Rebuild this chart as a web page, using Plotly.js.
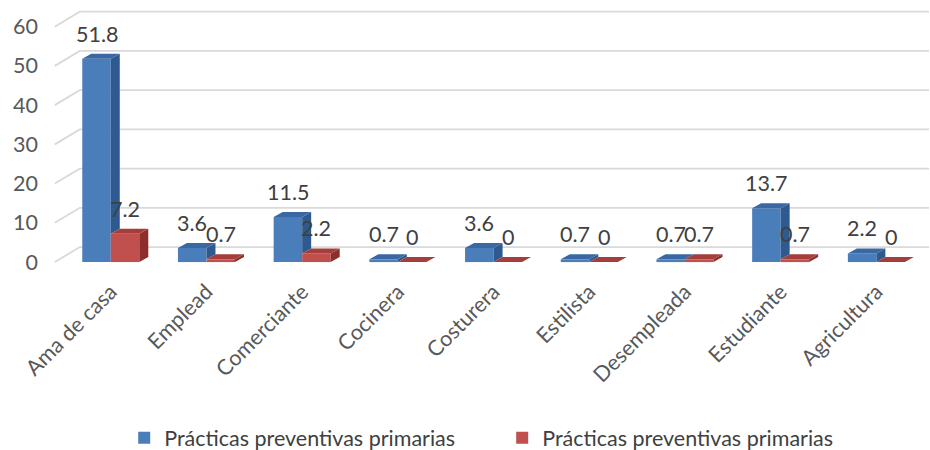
<!DOCTYPE html>
<html>
<head>
<meta charset="utf-8">
<script src="https://cdn.plot.ly/plotly-3.0.1.min.js"></script>
<style>html,body{margin:0;padding:0;background:#fff;}#chart{width:930px;height:450px;}</style>
</head>
<body>
<div id="chart"></div>
<script>
// ---- data ----
const categories = ["Ama de casa","Emplead","Comerciante","Cocinera","Costurera","Estilista","Desempleada","Estudiante","Agricultura"];
const seriesNames = ["Prácticas preventivas primarias","Prácticas preventivas primarias"];
const blueValues = [51.8, 3.6, 11.5, 0.7, 3.6, 0.7, 0.7, 13.7, 2.2];
const redValues  = [7.2, 0.7, 2.2, 0, 0, 0, 0.7, 0.7, 0];
const yTicks = [0, 10, 20, 30, 40, 50, 60];

// ---- styling / geometry (pseudo-3D) ----
const W = 0.298;        // bar width in category units
const DX = 0.094, DY = 1.27;   // bar depth offset (x units, y units)
const GDX = 0.261, GDY = 3.82; // floor / back wall offset for gridlines
const GX0 = -0.585;            // front-left start of gridlines
const XR = [-0.75, 8.55];
const YR = [-1, 64.5];
const blue = {front:"#4a7ebb", side:"#2f5a8f", top:"#3b68a3"};
const red  = {front:"#c0504d", side:"#8b2e2c", top:"#a53e3b"};
const fontFam = "Lato, 'Open Sans', sans-serif";
const FS = 21.5;

const idx = categories.map((_, i) => i);
const traces = [];

// gridlines (front-left slant then back wall), drawn below the bars
const shapes = yTicks.map(v => ({
  type:"path", xref:"x", yref:"y", layer:"below",
  path:"M" + GX0 + "," + v + " L" + (GX0 + GDX) + "," + (v + GDY) + " L" + XR[1] + "," + (v + GDY),
  line:{color:"#d9d9d9", width:1.8}
}));

// front faces
traces.push({type:"bar", name:seriesNames[0], x:idx, y:blueValues, offset:-W, width:W,
  marker:{color:blue.front, line:{width:0}}, hoverinfo:"y"});
traces.push({type:"bar", name:seriesNames[1], x:idx, y:redValues, offset:0, width:W,
  marker:{color:red.front, line:{width:0}}, hoverinfo:"y"});

function poly(list){
  const x = [], y = [];
  list.forEach(p => { p.forEach(q => { x.push(q[0]); y.push(q[1]); }); x.push(p[0][0]); y.push(p[0][1]); x.push(null); y.push(null); });
  return {x, y};
}
const bSide = [], bTop = [], rSide = [], rTop = [];
idx.forEach(i => {
  const hb = blueValues[i], hr = redValues[i];
  if (hb > hr) bSide.push([[i, hr],[i, hb],[i+DX, hb+DY],[i+DX, hr+DY]]);
  bTop.push([[i-W, hb],[i, hb],[i+DX, hb+DY],[i-W+DX, hb+DY]]);
  rSide.push([[i+W, 0],[i+W, hr],[i+W+DX, hr+DY],[i+W+DX, DY]]);
  rTop.push([[i, hr],[i+W, hr],[i+W+DX, hr+DY],[i+DX, hr+DY]]);
});
[[bSide, blue.side],[bTop, blue.top],[rSide, red.side],[rTop, red.top]].forEach(([pl, c]) => {
  const p = poly(pl);
  traces.push({type:"scatter", mode:"lines", x:p.x, y:p.y, fill:"toself", fillcolor:c,
    line:{width:0, color:c}, hoverinfo:"skip", showlegend:false});
});

// data labels
const annotations = [];
idx.forEach(i => {
  annotations.push({x:i - W/2, y:blueValues[i], text:String(blueValues[i]), showarrow:false,
    xanchor:"center", yanchor:"middle", yshift:25, font:{size:FS, color:"#404040", family:fontFam}});
  annotations.push({x:i + W/2, y:redValues[i], text:String(redValues[i]), showarrow:false,
    xanchor:"center", yanchor:"middle", yshift:25, font:{size:FS, color:"#404040", family:fontFam}});
});

const layout = {
  width:930, height:450,
  margin:{l:39, r:1, t:8.5, b:184},
  paper_bgcolor:"#ffffff", plot_bgcolor:"rgba(0,0,0,0)",
  font:{family:fontFam, color:"#595959", size:FS},
  xaxis:{range:XR, tickvals:idx, ticktext:categories, tickangle:-45, showgrid:false, automargin:false,
    ticklabelstandoff:8,
    zeroline:false, showline:false, ticks:"", tickfont:{size:FS, color:"#595959"}, fixedrange:true},
  yaxis:{range:YR, tickvals:yTicks, showgrid:false, zeroline:false, showline:false, ticks:"", automargin:false,
    tickfont:{size:FS, color:"#595959"}, fixedrange:true},
  showlegend:true,
  legend:{orientation:"h", x:0.54, xanchor:"center", xref:"container", yref:"container", y:0.027, yanchor:"middle",
    entrywidth:333, entrywidthmode:"pixels",
    font:{size:FS, color:"#404040"}, traceorder:"normal"},
  shapes:shapes,
  annotations:annotations
};

Plotly.newPlot("chart", traces, layout, {displayModeBar:false, staticPlot:true});
</script>
</body>
</html>
